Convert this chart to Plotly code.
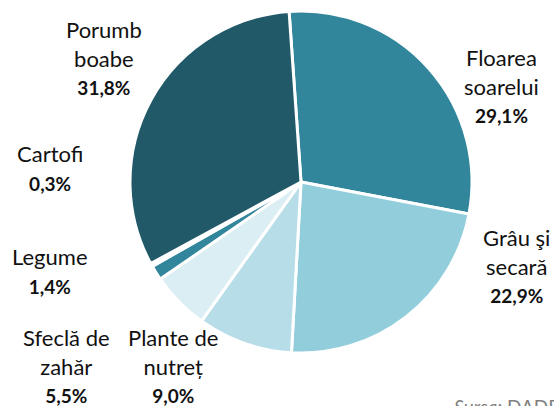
import plotly.graph_objects as go

categories = ["Floarea soarelui", "Grâu şi secară", "Plante de nutreț", "Sfeclă de zahăr",
              "Legume", "Cartofi", "Porumb boabe"]
values = [29.1, 22.9, 9.0, 5.5, 1.4, 0.3, 31.8]
label_lines = [["Floarea", "soarelui"], ["Grâu şi", "secară"], ["Plante de", "nutreț"],
               ["Sfeclă de", "zahăr"], ["Legume"], ["Cartofi"], ["Porumb", "boabe"]]
colors = ["#31869B", "#92CDDC", "#B7DEE8", "#DAEEF3", "#31869B", "#FFFFFF", "#215968"]

W, H = 554, 406
cx, cy, r = 301, 182, 171

# label block centers (pixel coords, top-left origin)
label_pos = [(501, 86), (516, 265), (173, 365), (66, 365), (50, 270), (50, 168), (104, 58)]

fig = go.Figure(go.Pie(
    labels=categories, values=values, sort=False, direction="clockwise", rotation=-4,
    marker=dict(colors=colors, line=dict(color="white", width=3)),
    textinfo="none", hoverinfo="label+percent", showlegend=False,
    domain=dict(x=[(cx - r) / W, (cx + r) / W], y=[(H - cy - r) / H, (H - cy + r) / H]),
))

font = "Lato, 'Open Sans', sans-serif"
for lines, v, (px, py) in zip(label_lines, values, label_pos):
    txt = ("<br>".join(lines) + "<br><b><span style='font-size:19px'>"
           + f"{v:.1f}".replace(".", ",") + "%</span></b>")
    fig.add_annotation(x=px / W, y=1 - py / H, xref="paper", yref="paper", text=txt,
                       showarrow=False, xanchor="center", yanchor="middle", align="center",
                       font=dict(family=font, size=22, color="#111111"))

fig.add_annotation(x=452 / W, y=1 - 393 / H, xref="paper", yref="paper",
                   text="<i>Sursa:</i> DADR", showarrow=False, xanchor="left", yanchor="top",
                   font=dict(family=font, size=19, color="#7f7f7f"))

fig.update_layout(width=W, height=H, margin=dict(l=0, r=0, t=0, b=0),
                  paper_bgcolor="white", plot_bgcolor="white")
fig.write_html("out.html", config={"displayModeBar": False},
               post_script="document.body.style.margin='0';")
